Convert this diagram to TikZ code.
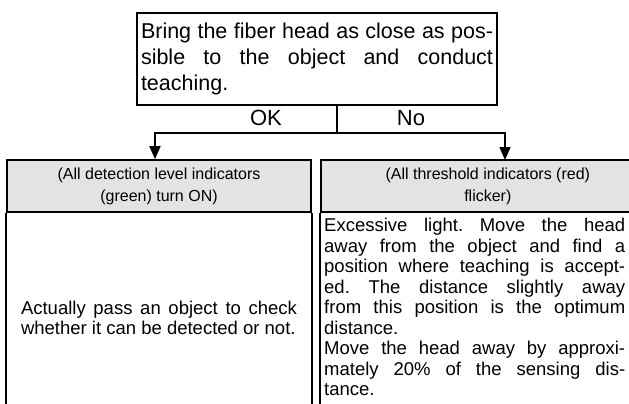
\documentclass[tikz,border=0pt]{standalone}
\usepackage{fontspec}
\setmainfont{Liberation Sans}
\usetikzlibrary{positioning, arrows.meta}
\frenchspacing

\begin{document}
\begin{tikzpicture}[
	x=1pt, y=1pt,
	>=stealth,
	% Define styles
	topbox/.style={rectangle, draw=black, line width=1.6pt, minimum width=360pt, minimum height=92pt, text width=352pt, inner sep=4pt, align=justify, font=\fontsize{21.5}{26}\selectfont},
	answer/.style={inner sep=0pt, font=\fontsize{22}{26}\selectfont},
	headbox/.style={rectangle, draw=black, fill=black!11, line width=1.6pt, minimum height=52pt, align=center, font=\fontsize{16}{22}\selectfont},
	bodytext/.style={inner sep=3pt, align=justify, font=\fontsize{18.5}{20.5}\selectfont},
	boxline/.style={line width=1.6pt, black},
	arrow/.style={-{Triangle[length=13pt, width=11pt]}, line width=1.6pt, black}
	]
	\useasboundingbox (0,0) rectangle (629,-404);
	
	% 1. Teaching step
	\node[topbox] (teach) at (317,-59) {Bring the fiber head as close as pos-\linebreak sible to the object and conduct\linebreak teaching.};
	
	% 2. Answers
	\node[answer] (ok) at (266,-118) {OK};
	\node[answer] (no) at (411,-118) {No};
	\coordinate (split) at (337,-133);
	\coordinate (nodrop) at (505,-160);
	
	% 3. Result headers
	\node[headbox, minimum width=304pt] (okhead) at (159,-186) {(All detection level indicators\\(green) turn ON)};
	\node[headbox, minimum width=334pt, anchor=west] (nohead) at (320,-186) {(All threshold indicators (red)\\flicker)};
	
	% Open box bodies
	\draw[boxline] (okhead.south west) -- ++(0,-200);
	\draw[boxline] (okhead.south east) -- ++(0,-200);
	\draw[boxline] (nohead.south west) -- ++(0,-200);
	
	% Branch lines
	\draw[boxline] (teach.south -| split) -- (split);
	\draw[arrow] (split) -| (okhead.north -| 155,0);
	\draw[arrow] (split) -| (nodrop);
	
	% 4. Result texts
	\node[bodytext, text width=276pt] (okbody) at (159,-318) {Actually pass an object to check\linebreak whether it can be detected or not.};
	\node[bodytext, text width=301pt, anchor=north west] (nobody) at (321,-215) {Excessive light. Move the head\linebreak away from the object and find a\linebreak position where teaching is accept-\linebreak ed. The distance slightly away\linebreak from this position is the optimum\linebreak distance.\\Move the head away by approxi-\linebreak mately 20\% of the sensing dis-\linebreak tance.};
\end{tikzpicture}
\end{document}
